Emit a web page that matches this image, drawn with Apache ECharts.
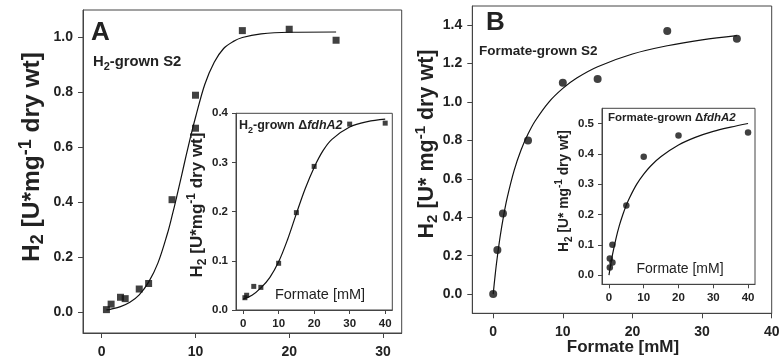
<!DOCTYPE html>
<html>
<head>
<meta charset="utf-8">
<script src="https://cdn.jsdelivr.net/npm/echarts@6/dist/echarts.min.js"></script>
<style>
html,body{margin:0;padding:0;background:#fff;}
#c{width:781px;height:362px;}
</style>
</head>
<body>
<div id="c"></div>
<script>
// ---------- Panel A (H2-grown S2) ----------
const aX = [0.5, 1, 2, 2.5, 4, 5, 7.5, 10, 10, 15, 20, 25];
const aY = [0.01, 0.03, 0.055, 0.05, 0.085, 0.105, 0.41, 0.67, 0.79, 1.025, 1.03, 0.99];
const aFitX = [0.5, 1, 2, 3, 4, 5, 6, 7, 7.5, 8, 8.5, 9, 9.5, 10, 11, 12, 13, 14, 15, 17, 20, 25];
const aFitY = [0.009, 0.012, 0.021, 0.037, 0.064, 0.11, 0.18, 0.286, 0.351, 0.421, 0.495, 0.57, 0.642, 0.709, 0.83, 0.91, 0.96, 0.985, 1.0, 1.013, 1.019, 1.02];
const aTicksX = [0, 10, 20, 30];
const aTicksY = [0, 0.2, 0.4, 0.6, 0.8, 1.0];

// ---------- Inset A (H2-grown ΔfdhA2) ----------
const aInX = [0.5, 1, 3, 5, 10, 15, 20, 30, 40];
const aInY = [0.025, 0.03, 0.048, 0.046, 0.095, 0.198, 0.292, 0.378, 0.38];
const aInFitX = [0, 2.5, 5, 7.5, 10, 12.5, 15, 17.5, 20, 22.5, 25, 30, 35, 40];
const aInFitY = [0.022, 0.03, 0.045, 0.066, 0.098, 0.143, 0.196, 0.247, 0.29, 0.324, 0.347, 0.372, 0.383, 0.388];
const aInTicksX = [0, 10, 20, 30, 40];
const aInTicksY = [0, 0.1, 0.2, 0.3, 0.4];

// ---------- Panel B (Formate-grown S2) ----------
const bX = [0, 0.6, 1.4, 5, 10, 15, 25, 35];
const bY = [0, 0.23, 0.42, 0.8, 1.1, 1.12, 1.37, 1.33];
const bFitX = [0, 0.25, 0.5, 1, 1.5, 2, 3, 4, 5, 6, 8, 10, 12, 15, 20, 25, 30, 35];
const bFitY = [0, 0.088, 0.167, 0.3, 0.409, 0.5, 0.643, 0.75, 0.833, 0.9, 1.0, 1.071, 1.125, 1.184, 1.25, 1.293, 1.324, 1.346];
const bTicksX = [0, 10, 20, 30, 40];
const bTicksY = [0, 0.2, 0.4, 0.6, 0.8, 1.0, 1.2, 1.4];

// ---------- Inset B (Formate-grown ΔfdhA2) ----------
const bInX = [0.25, 0.25, 1, 1, 5, 10, 20, 40];
const bInY = [0.055, 0.025, 0.042, 0.1, 0.23, 0.39, 0.46, 0.47];
const bInFitX = [0, 0.5, 1, 2, 3, 4, 5, 6, 8, 10, 12, 15, 20, 25, 30, 35, 40];
const bInFitY = [0, 0.035, 0.067, 0.12, 0.164, 0.2, 0.231, 0.257, 0.3, 0.333, 0.36, 0.391, 0.429, 0.455, 0.474, 0.488, 0.5];
const bInTicksX = [0, 10, 20, 30, 40];
const bInTicksY = [0, 0.1, 0.2, 0.3, 0.4, 0.5];

const FONT = 'Liberation Sans, Arial, sans-serif';
const INK = '#111';
const FRAME = '#444';
const TXT = '#222';

const pairs = (xs, ys) => xs.map((x, i) => [x, ys[i]]);

function xAx(gi, min, max, ticks, fs, tl, margin, z) {
  return {
    type: 'value', gridIndex: gi, min: min, max: max, z: z,
    splitLine: {show: false},
    axisLine: {show: true, onZero: false, lineStyle: {color: FRAME, width: 1}},
    axisTick: {show: true, customValues: ticks, length: tl, lineStyle: {color: FRAME}},
    axisLabel: {customValues: ticks, fontFamily: FONT, fontWeight: 'bold', fontSize: fs, color: TXT, margin: margin}
  };
}
function yAx(gi, min, max, ticks, fs, tl, margin, z) {
  return {
    type: 'value', gridIndex: gi, min: min, max: max, z: z,
    splitLine: {show: false},
    axisLine: {show: true, onZero: false, lineStyle: {color: FRAME, width: 1}},
    axisTick: {show: true, customValues: ticks, length: tl, lineStyle: {color: FRAME}},
    axisLabel: {customValues: ticks, fontFamily: FONT, fontWeight: 'bold', fontSize: fs, color: TXT, margin: margin,
      formatter: v => Number(v).toFixed(1)}
  };
}
function grid(l, t, w, h, z) {
  return {left: l, top: t, width: w, height: h, containLabel: false, outerBoundsMode: 'none',
    show: true, borderColor: FRAME, borderWidth: 1, backgroundColor: '#fff', z: z};
}
function scatter(ai, xs, ys, sym, size, z) {
  return {type: 'scatter', xAxisIndex: ai, yAxisIndex: ai, data: pairs(xs, ys), symbol: sym, symbolSize: size,
    itemStyle: {color: INK}, z: z + 1, silent: true};
}
function fit(ai, xs, ys, z) {
  return {type: 'line', xAxisIndex: ai, yAxisIndex: ai, data: pairs(xs, ys), showSymbol: false, smooth: 0.35,
    lineStyle: {color: INK, width: 1.2}, z: z, silent: true};
}

const bigRich = (fs) => ({
  a: {fontSize: fs, fontWeight: 'bold', fontFamily: FONT, color: TXT, lineHeight: fs + 6},
  s: {fontSize: Math.round(fs * 0.72), fontWeight: 'bold', fontFamily: FONT, color: TXT, lineHeight: fs + 6, verticalAlign: 'bottom'},
  p: {fontSize: Math.round(fs * 0.72), fontWeight: 'bold', fontFamily: FONT, color: TXT, lineHeight: fs + 6, verticalAlign: 'top'},
  i: {fontSize: fs, fontWeight: 'bold', fontStyle: 'italic', fontFamily: FONT, color: TXT, lineHeight: fs + 6}
});

function txt(x, y, text, fs, opts) {
  opts = opts || {};
  return {
    type: 'text', x: x, y: y, rotation: opts.rot || 0, z: 100,
    style: {
      text: text, rich: bigRich(fs),
      fontSize: fs, fontWeight: opts.weight || 'bold', fontFamily: FONT, fill: TXT,
      align: opts.align || 'left', verticalAlign: 'middle'
    }
  };
}

const chart = echarts.init(document.getElementById('c'), null, {renderer: 'canvas'});
chart.setOption({
  animation: false,
  backgroundColor: '#fff',
  grid: [
    grid(83, 10, 318.7, 323, 0),
    grid(236, 113.3, 156.3, 196.7, 5),
    grid(472.3, 6, 299.4, 307.3, 0),
    grid(602, 108.3, 153, 176, 5)
  ],
  xAxis: [
    xAx(0, -2, 32, aTicksX, 14, 5, 12, 1),
    xAx(1, -2, 42, aInTicksX, 11.5, 4, 8, 6),
    xAx(2, -3, 40, bTicksX, 14, 5, 12, 1),
    xAx(3, -2, 42, bInTicksX, 11.5, 4, 8, 6)
  ],
  yAxis: [
    yAx(0, -0.075, 1.1, aTicksY, 14, 5, 10, 1),
    yAx(1, 0, 0.4, aInTicksY, 11.5, 4, 8, 6),
    yAx(2, -0.1, 1.5, bTicksY, 14, 5, 10, 1),
    yAx(3, -0.03, 0.55, bInTicksY, 11.5, 4, 8, 6)
  ],
  series: [
    fit(0, aFitX, aFitY, 3), scatter(0, aX, aY, 'rect', 7, 3),
    fit(1, aInFitX, aInFitY, 10), scatter(1, aInX, aInY, 'rect', 5, 10),
    fit(2, bFitX, bFitY, 3), scatter(2, bX, bY, 'circle', 8, 3),
    fit(3, bInFitX, bInFitY, 10), scatter(3, bInX, bInY, 'circle', 6.5, 10)
  ],
  graphic: [
    txt(91, 32.5, '{a|A}', 26),
    txt(93, 61.7, '{a|H}{s|2}{a|-grown S2}', 14.8),
    txt(239, 126, '{a|H}{s|2}{a|-grown Δ}{i|fdhA2}', 12.5),
    txt(320, 295, 'Formate [mM]', 14.5, {weight: 'normal', align: 'center'}),
    txt(32, 157, '{a|H}{s|2}{a| [U*mg}{p|-1}{a| dry wt]}', 24.5, {rot: Math.PI / 2, align: 'center'}),
    txt(197, 205, '{a|H}{s|2}{a| [U*mg}{p|-1}{a| dry wt]}', 17, {rot: Math.PI / 2, align: 'center'}),
    txt(486, 22.5, '{a|B}', 26),
    txt(479, 51.7, '{a|Formate-grown S2}', 13.5),
    txt(608, 118.3, '{a|Formate-grown Δ}{i|fdhA2}', 11.5),
    txt(680, 269.3, 'Formate [mM]', 14, {weight: 'normal', align: 'center'}),
    txt(426.7, 144, '{a|H}{s|2}{a| [U* mg}{p|-1}{a| dry wt]}', 21.5, {rot: Math.PI / 2, align: 'center'}),
    txt(564, 191, '{a|H}{s|2}{a| [U* mg}{p|-1}{a| dry wt]}', 13.8, {rot: Math.PI / 2, align: 'center'}),
    txt(623, 347, '{a|Formate [mM]}', 17, {align: 'center'})
  ]
});
</script>
</body>
</html>
